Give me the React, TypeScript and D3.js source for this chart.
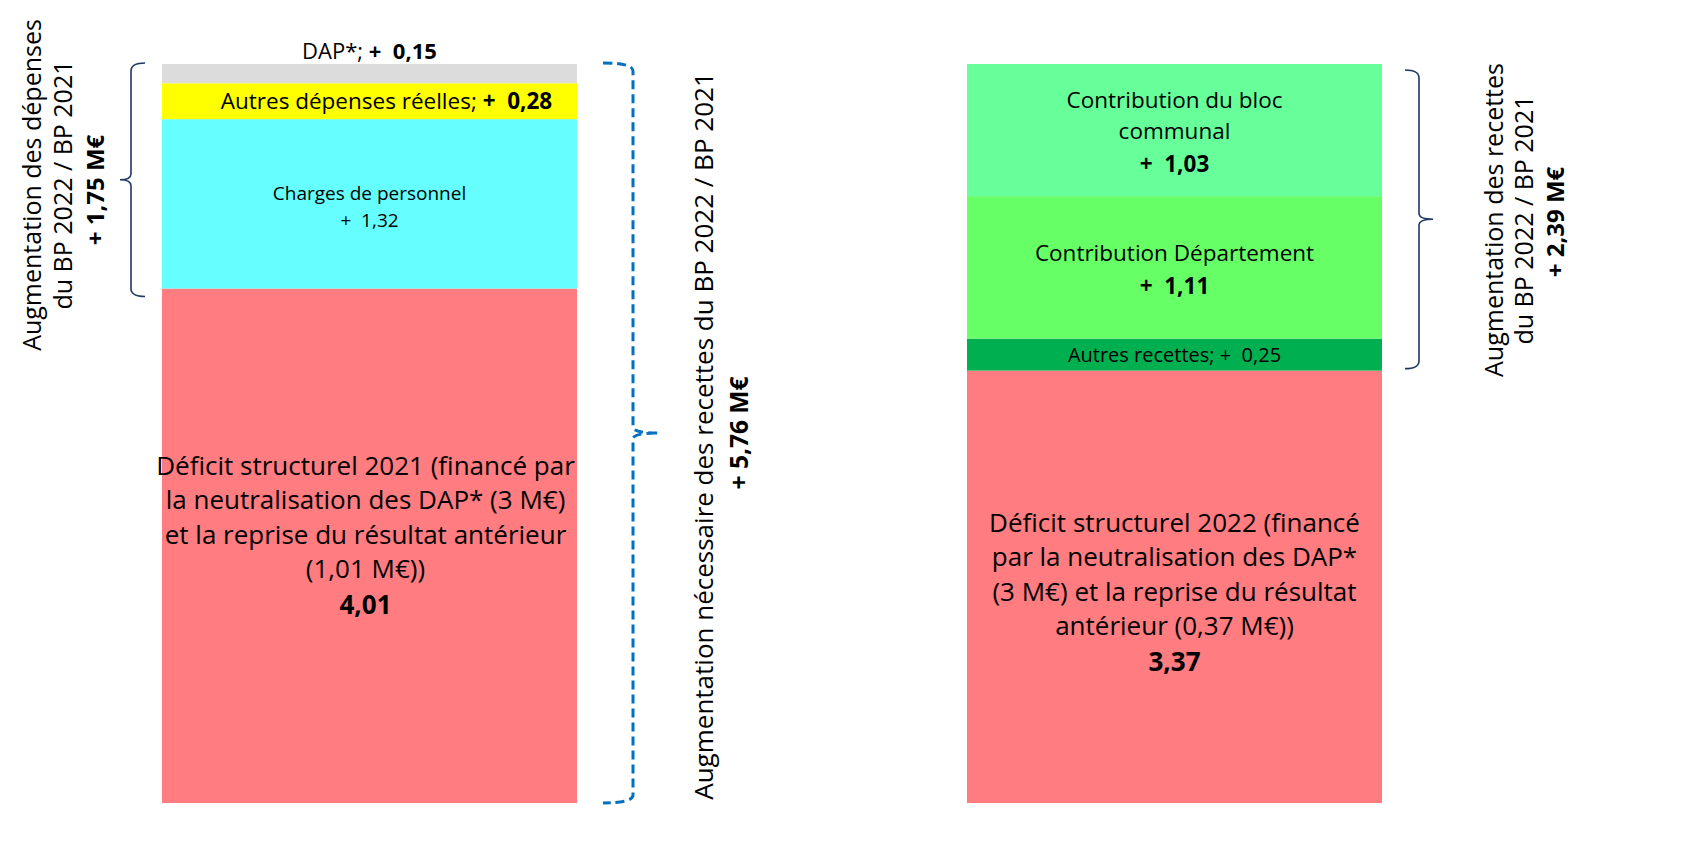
import React from "react";
import * as d3 from "d3";

const W = 1681;
const H = 863;

const categories = ["BP dépenses", "BP recettes"];

// left column (bottom → top)
const depensesNames = ["Déficit structurel 2021", "Charges de personnel", "Autres dépenses réelles", "DAP*"];
const depensesValues = [4.01, 1.32, 0.28, 0.15];
const depensesColors = ["#ff7c80", "#66ffff", "#ffff00", "#dcdcdc"];

// right column (bottom → top)
const recettesNames = ["Déficit structurel 2022", "Autres recettes", "Contribution Département", "Contribution du bloc communal"];
const recettesValues = [3.37, 0.25, 1.11, 1.03];
const recettesColors = ["#ff7c80", "#00b050", "#66ff66", "#66ff99"];

const FONT = "'Open Sans', sans-serif";
const NAVY = "#1f3864";
const BLUE = "#0070c0";

type Seg = { name: string; value: number; y0: number; y1: number; color: string };

function stackSegs(names: string[], values: number[], colors: string[]): Seg[] {
  let acc = 0;
  return names.map((n, i) => {
    const s = { name: n, value: values[i], y0: acc, y1: acc + values[i], color: colors[i] };
    acc += values[i];
    return s;
  });
}

const fmt = (v: number) => v.toFixed(2).replace(".", ",");

export default function App() {
  const left = stackSegs(depensesNames, depensesValues, depensesColors);
  const right = stackSegs(recettesNames, recettesValues, recettesColors);
  const totalL = d3.sum(depensesValues);

  const y = d3.scaleLinear().domain([0, totalL]).range([803, 64]);
  const x = d3.scaleBand<string>().domain(categories).range([162, 1382]).paddingInner(390 / 805).paddingOuter(0);
  const bw = x.bandwidth();
  const xl = x(categories[0])!;
  const xr = x(categories[1])!;
  const cl = xl + bw / 2;
  const cr = xr + bw / 2;

  const mid = (s: Seg) => (y(s.y0) + y(s.y1)) / 2;

  const braceLeft = (xv: number, top: number, bot: number, hook: number, tip: number) => {
    const m = (top + bot) / 2;
    return `M${xv + hook},${top} Q${xv},${top} ${xv},${top + 8} L${xv},${m - 6} Q${xv},${m} ${xv - tip},${m} Q${xv},${m} ${xv},${m + 6} L${xv},${bot - 8} Q${xv},${bot} ${xv + hook},${bot}`;
  };
  const braceRight = (xv: number, top: number, bot: number, hook: number, tip: number) => {
    const m = (top + bot) / 2;
    return `M${xv - hook},${top} Q${xv},${top} ${xv},${top + 8} L${xv},${m - 6} Q${xv},${m} ${xv + tip},${m} Q${xv},${m} ${xv},${m + 6} L${xv},${bot - 8} Q${xv},${bot} ${xv - hook},${bot}`;
  };

  const defL = left[0], chL = left[1], adL = left[2], dapL = left[3];
  const defR = right[0], arR = right[1], dpR = right[2], blR = right[3];

  const defLLines = [
    "Déficit structurel 2021 (financé par",
    "la neutralisation des DAP* (3 M€)",
    "et la reprise du résultat antérieur",
    "(1,01 M€))",
  ];
  const defRLines = [
    "Déficit structurel 2022 (financé",
    "par la neutralisation des DAP*",
    "(3 M€) et la reprise du résultat",
    "antérieur (0,37 M€))",
  ];

  const incDep = d3.sum(depensesValues.slice(1));
  const incRec = d3.sum(recettesValues.slice(1));

  return (
    <svg width={W} height={H} style={{ position: "absolute", left: 0, top: 0, display: "block", background: "#fff" }} fontFamily={FONT}>
      {left.map((s, i) => (
        <rect key={"l" + i} x={xl} width={bw} y={y(s.y1)} height={y(s.y0) - y(s.y1)} fill={s.color} />
      ))}
      {right.map((s, i) => (
        <rect key={"r" + i} x={xr} width={bw} y={y(s.y1)} height={y(s.y0) - y(s.y1)} fill={s.color} />
      ))}

      {/* left bar labels */}
      <text x={cl} y={y(dapL.y1) - 5} textAnchor="middle" fontSize={22} fill="#000" xmlSpace="preserve">
        <tspan>DAP*; </tspan>
        <tspan fontWeight="bold">{"+  " + fmt(dapL.value)}</tspan>
      </text>
      <text x={cl + 17} y={mid(adL) + 8} textAnchor="middle" fontSize={22.5} fill="#000" xmlSpace="preserve">
        <tspan>Autres dépenses réelles; </tspan>
        <tspan fontWeight="bold">{"+  " + fmt(adL.value)}</tspan>
      </text>
      <text x={cl} y={mid(chL) - 4} textAnchor="middle" fontSize={19} fill="#000" xmlSpace="preserve">
        <tspan x={cl} dy={0}>Charges de personnel</tspan>
        <tspan x={cl} dy={27}>{"+  " + fmt(chL.value)}</tspan>
      </text>
      <text x={cl - 4} y={mid(defL) - 71} textAnchor="middle" fontSize={26} fill="#000">
        {defLLines.map((l, i) => (
          <tspan key={i} x={cl - 4} dy={i === 0 ? 0 : 34.5}>{l}</tspan>
        ))}
        <tspan x={cl - 4} dy={36} fontWeight="bold">{fmt(defL.value)}</tspan>
      </text>

      {/* right bar labels */}
      <text x={cr} y={mid(blR) - 22} textAnchor="middle" fontSize={22.5} fill="#000" xmlSpace="preserve">
        <tspan x={cr} dy={0}>Contribution du bloc</tspan>
        <tspan x={cr} dy={31}>communal</tspan>
        <tspan x={cr} dy={33} fontWeight="bold">{"+  " + fmt(blR.value)}</tspan>
      </text>
      <text x={cr} y={mid(dpR) - 6} textAnchor="middle" fontSize={22.5} fill="#000" xmlSpace="preserve">
        <tspan x={cr} dy={0}>Contribution Département</tspan>
        <tspan x={cr} dy={33} fontWeight="bold">{"+  " + fmt(dpR.value)}</tspan>
      </text>
      <text x={cr} y={mid(arR) + 7} textAnchor="middle" fontSize={20} fill="#000" xmlSpace="preserve">
        {"Autres recettes; +  " + fmt(arR.value)}
      </text>
      <text x={cr} y={mid(defR) - 55} textAnchor="middle" fontSize={26} fill="#000">
        {defRLines.map((l, i) => (
          <tspan key={i} x={cr} dy={i === 0 ? 0 : 34.5}>{l}</tspan>
        ))}
        <tspan x={cr} dy={36} fontWeight="bold">{fmt(defR.value)}</tspan>
      </text>

      {/* braces */}
      <path d={braceLeft(131, y(totalL) - 1, y(defL.y1) + 8, 14, 11)} fill="none" stroke={NAVY} strokeWidth={1.6} />
      <path d={braceRight(633, y(totalL) - 1, y(0), 30, 26)} fill="none" stroke={BLUE} strokeWidth={3} strokeDasharray="9 5" />
      <path d={braceRight(1419, y(totalL) + 6, y(defR.y1) - 2, 14, 14)} fill="none" stroke={NAVY} strokeWidth={1.6} />

      {/* rotated side labels */}
      <g transform={`translate(0,185)`}>
        <text transform="translate(41,0) rotate(-90)" textAnchor="middle" fontSize={25} fill="#000">Augmentation des dépenses</text>
        <text transform="translate(72,0) rotate(-90)" textAnchor="middle" fontSize={25} fill="#000">du BP 2022 / BP 2021</text>
        <text transform="translate(104,5) rotate(-90)" textAnchor="middle" fontSize={24} fontWeight="bold" fill="#000">+ {fmt(incDep)} M€</text>
      </g>
      <g transform={`translate(0,436)`}>
        <text transform="translate(713,0) rotate(-90)" textAnchor="middle" fontSize={26} fill="#000">Augmentation nécessaire des recettes du BP 2022 / BP 2021</text>
        <text transform="translate(748,-3) rotate(-90)" textAnchor="middle" fontSize={24.5} fontWeight="bold" fill="#000">+ {fmt(totalL)} M€</text>
      </g>
      <g transform={`translate(0,220)`}>
        <text transform="translate(1503,0) rotate(-90)" textAnchor="middle" fontSize={25} fill="#000">Augmentation des recettes</text>
        <text transform="translate(1533,0) rotate(-90)" textAnchor="middle" fontSize={25} fill="#000">du BP 2022 / BP 2021</text>
        <text transform="translate(1564,2) rotate(-90)" textAnchor="middle" fontSize={24} fontWeight="bold" fill="#000">+ {fmt(incRec)} M€</text>
      </g>
    </svg>
  );
}
